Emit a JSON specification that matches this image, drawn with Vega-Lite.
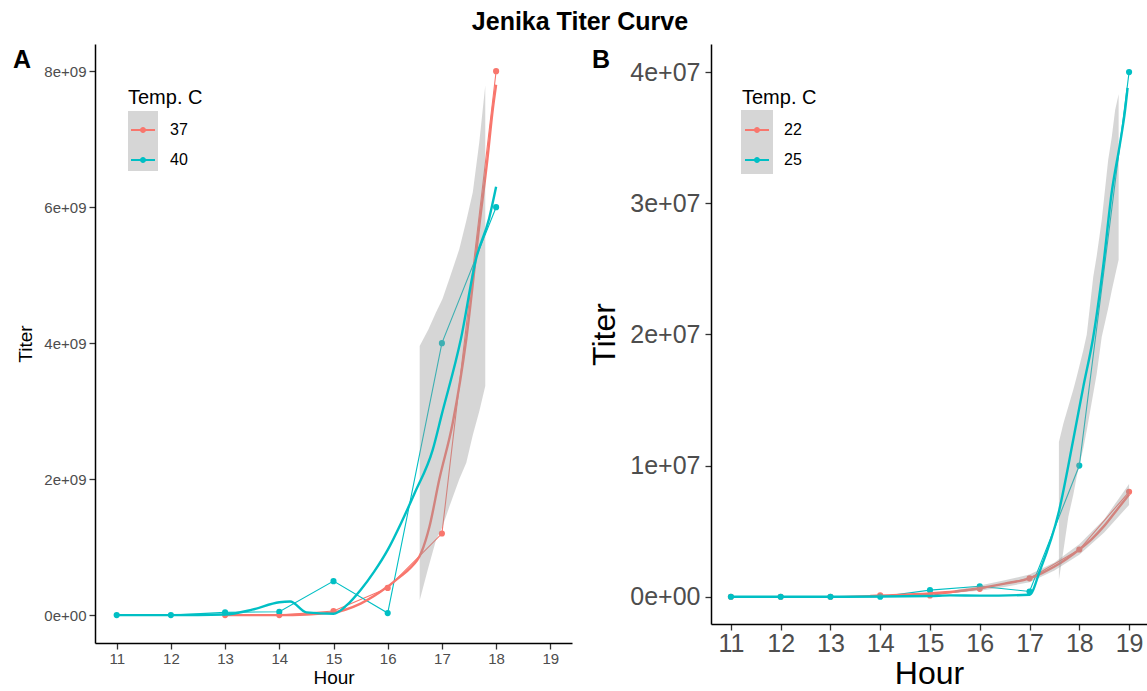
{
  "$schema": "https://vega.github.io/schema/vega-lite/v6.json",
  "background": "white",
  "padding": {"left": 13, "top": 10, "right": 0, "bottom": 0},
  "title": {"text": "Jenika Titer Curve", "fontSize": 25, "font": "Liberation Sans", "fontWeight": "bold", "color": "black", "anchor": "middle", "frame": "bounds", "offset": 9},
  "config": {
    "font": "Liberation Sans",
    "view": {"stroke": null},
    "axis": {"grid": false, "domainColor": "black", "domainWidth": 1.5, "tickColor": "#333333", "tickWidth": 1.3, "tickSize": 6, "labelColor": "#4d4d4d", "titleColor": "black", "titleFontWeight": "normal", "labelFont": "Liberation Sans", "titleFont": "Liberation Sans"},
    "legend": {"labelFont": "Liberation Sans", "titleFont": "Liberation Sans", "labelColor": "black", "titleColor": "black", "titleFontWeight": "normal"}
  },
  "datasets": {
    "a_key": [{"k": "1", "hour": 11, "titer": 0}, {"k": "2", "hour": 11, "titer": 0}],
    "b_key": [{"k": "1", "hour": 11, "titer": 0}, {"k": "2", "hour": 11, "titer": 0}],
    "a_pts": [
      {"temp": "37", "hour": 13, "titer": 0},
      {"temp": "37", "hour": 14, "titer": 0},
      {"temp": "37", "hour": 15, "titer": 60000000},
      {"temp": "37", "hour": 16, "titer": 400000000},
      {"temp": "37", "hour": 17, "titer": 1200000000},
      {"temp": "37", "hour": 18, "titer": 8000000000},
      {"temp": "40", "hour": 11, "titer": 0},
      {"temp": "40", "hour": 12, "titer": 0},
      {"temp": "40", "hour": 13, "titer": 40000000},
      {"temp": "40", "hour": 14, "titer": 50000000},
      {"temp": "40", "hour": 15, "titer": 500000000},
      {"temp": "40", "hour": 16, "titer": 30000000},
      {"temp": "40", "hour": 17, "titer": 4000000000},
      {"temp": "40", "hour": 18, "titer": 6000000000}
    ],
    "a_fit": [
      {"temp": "37", "hour": 13, "titer": 0},
      {"temp": "37", "hour": 14, "titer": 0},
      {"temp": "37", "hour": 14.5, "titer": 10000000},
      {"temp": "37", "hour": 15, "titer": 40000000},
      {"temp": "37", "hour": 15.5, "titer": 170000000},
      {"temp": "37", "hour": 16, "titer": 420000000},
      {"temp": "37", "hour": 16.22, "titer": 560000000},
      {"temp": "37", "hour": 16.4, "titer": 680000000},
      {"temp": "37", "hour": 16.62, "titer": 920000000},
      {"temp": "37", "hour": 16.77, "titer": 1300000000},
      {"temp": "37", "hour": 16.95, "titer": 1990000000},
      {"temp": "37", "hour": 17.2, "titer": 2830000000},
      {"temp": "37", "hour": 17.45, "titer": 4060000000},
      {"temp": "37", "hour": 17.69, "titer": 5730000000},
      {"temp": "37", "hour": 17.84, "titer": 6710000000},
      {"temp": "37", "hour": 17.94, "titer": 7450000000},
      {"temp": "37", "hour": 18, "titer": 7800000000},
      {"temp": "40", "hour": 11, "titer": 0},
      {"temp": "40", "hour": 12, "titer": 0},
      {"temp": "40", "hour": 13, "titer": 10000000},
      {"temp": "40", "hour": 13.5, "titer": 80000000},
      {"temp": "40", "hour": 14, "titer": 190000000},
      {"temp": "40", "hour": 14.2, "titer": 200000000},
      {"temp": "40", "hour": 14.5, "titer": 40000000},
      {"temp": "40", "hour": 15, "titer": 20000000},
      {"temp": "40", "hour": 15.25, "titer": 150000000},
      {"temp": "40", "hour": 15.5, "titer": 370000000},
      {"temp": "40", "hour": 15.75, "titer": 640000000},
      {"temp": "40", "hour": 16, "titer": 960000000},
      {"temp": "40", "hour": 16.25, "titer": 1360000000},
      {"temp": "40", "hour": 16.5, "titer": 1800000000},
      {"temp": "40", "hour": 16.83, "titer": 2430000000},
      {"temp": "40", "hour": 17, "titer": 2960000000},
      {"temp": "40", "hour": 17.35, "titer": 4060000000},
      {"temp": "40", "hour": 17.63, "titer": 5240000000},
      {"temp": "40", "hour": 17.87, "titer": 5830000000},
      {"temp": "40", "hour": 18, "titer": 6300000000}
    ],
    "a_band": [
      {"hour": 16.59, "titer": 220000000, "titer2": 3960000000},
      {"hour": 16.75, "titer": 700000000, "titer2": 4200000000},
      {"hour": 16.89, "titer": 1100000000, "titer2": 4450000000},
      {"hour": 17.01, "titer": 1300000000, "titer2": 4650000000},
      {"hour": 17.14, "titer": 1600000000, "titer2": 4950000000},
      {"hour": 17.32, "titer": 2000000000, "titer2": 5380000000},
      {"hour": 17.45, "titer": 2240000000, "titer2": 5800000000},
      {"hour": 17.57, "titer": 2650000000, "titer2": 6220000000},
      {"hour": 17.69, "titer": 3000000000, "titer2": 6960000000},
      {"hour": 17.8, "titer": 3370000000, "titer2": 7790000000}
    ],
    "b_pts": [
      {"temp": "22", "hour": 11, "titer": 0},
      {"temp": "22", "hour": 12, "titer": 0},
      {"temp": "22", "hour": 13, "titer": 0},
      {"temp": "22", "hour": 14, "titer": 100000},
      {"temp": "22", "hour": 15, "titer": 100000},
      {"temp": "22", "hour": 16, "titer": 600000},
      {"temp": "22", "hour": 17, "titer": 1400000},
      {"temp": "22", "hour": 18, "titer": 3600000},
      {"temp": "22", "hour": 19, "titer": 8000000},
      {"temp": "25", "hour": 11, "titer": 0},
      {"temp": "25", "hour": 12, "titer": 0},
      {"temp": "25", "hour": 13, "titer": 0},
      {"temp": "25", "hour": 14, "titer": 0},
      {"temp": "25", "hour": 15, "titer": 500000},
      {"temp": "25", "hour": 16, "titer": 800000},
      {"temp": "25", "hour": 17, "titer": 400000},
      {"temp": "25", "hour": 18, "titer": 10000000},
      {"temp": "25", "hour": 19, "titer": 40000000}
    ],
    "b_fit": [
      {"temp": "22", "hour": 13.8, "titer": 50000},
      {"temp": "22", "hour": 14, "titer": 80000},
      {"temp": "22", "hour": 15, "titer": 250000},
      {"temp": "22", "hour": 15.5, "titer": 400000},
      {"temp": "22", "hour": 16, "titer": 650000},
      {"temp": "22", "hour": 16.5, "titer": 1000000},
      {"temp": "22", "hour": 17, "titer": 1400000},
      {"temp": "22", "hour": 17.25, "titer": 1800000},
      {"temp": "22", "hour": 17.5, "titer": 2300000},
      {"temp": "22", "hour": 17.75, "titer": 2900000},
      {"temp": "22", "hour": 18, "titer": 3600000},
      {"temp": "22", "hour": 18.25, "titer": 4400000},
      {"temp": "22", "hour": 18.5, "titer": 5400000},
      {"temp": "22", "hour": 18.75, "titer": 6600000},
      {"temp": "22", "hour": 19, "titer": 7800000},
      {"temp": "25", "hour": 11, "titer": 0},
      {"temp": "25", "hour": 12, "titer": 0},
      {"temp": "25", "hour": 13, "titer": 0},
      {"temp": "25", "hour": 14, "titer": 20000},
      {"temp": "25", "hour": 15, "titer": 50000},
      {"temp": "25", "hour": 15.4, "titer": 100000},
      {"temp": "25", "hour": 16, "titer": 80000},
      {"temp": "25", "hour": 17, "titer": 150000},
      {"temp": "25", "hour": 17.21, "titer": 2000000},
      {"temp": "25", "hour": 17.59, "titer": 6500000},
      {"temp": "25", "hour": 17.88, "titer": 12000000},
      {"temp": "25", "hour": 18.08, "titer": 16000000},
      {"temp": "25", "hour": 18.28, "titer": 19800000},
      {"temp": "25", "hour": 18.48, "titer": 25200000},
      {"temp": "25", "hour": 18.65, "titer": 30800000},
      {"temp": "25", "hour": 18.82, "titer": 34600000},
      {"temp": "25", "hour": 18.92, "titer": 37100000},
      {"temp": "25", "hour": 18.97, "titer": 38800000}
    ],
    "b_band": [
      {"g": "22", "hour": 15.5, "titer": 300000, "titer2": 500000},
      {"g": "22", "hour": 16, "titer": 450000, "titer2": 850000},
      {"g": "22", "hour": 16.5, "titer": 750000, "titer2": 1250000},
      {"g": "22", "hour": 17, "titer": 1100000, "titer2": 1700000},
      {"g": "22", "hour": 17.5, "titer": 2000000, "titer2": 2600000},
      {"g": "22", "hour": 18, "titer": 3200000, "titer2": 4000000},
      {"g": "22", "hour": 18.5, "titer": 4900000, "titer2": 5900000},
      {"g": "22", "hour": 19, "titer": 7000000, "titer2": 8600000},
      {"g": "25", "hour": 17.59, "titer": 1300000, "titer2": 11800000},
      {"g": "25", "hour": 17.68, "titer": 3500000, "titer2": 13200000},
      {"g": "25", "hour": 17.78, "titer": 6100000, "titer2": 14500000},
      {"g": "25", "hour": 17.88, "titer": 7800000, "titer2": 15800000},
      {"g": "25", "hour": 17.95, "titer": 9200000, "titer2": 16800000},
      {"g": "25", "hour": 18.08, "titer": 11300000, "titer2": 18800000},
      {"g": "25", "hour": 18.15, "titer": 12700000, "titer2": 20000000},
      {"g": "25", "hour": 18.28, "titer": 15500000, "titer2": 24400000},
      {"g": "25", "hour": 18.35, "titer": 17000000, "titer2": 26000000},
      {"g": "25", "hour": 18.45, "titer": 19800000, "titer2": 28700000},
      {"g": "25", "hour": 18.58, "titer": 22000000, "titer2": 33300000},
      {"g": "25", "hour": 18.65, "titer": 23300000, "titer2": 35000000},
      {"g": "25", "hour": 18.72, "titer": 24500000, "titer2": 37100000},
      {"g": "25", "hour": 18.79, "titer": 25700000, "titer2": 38300000}
    ]
  },
  "spacing": 16,
  "resolve": {"scale": {"color": "independent", "fill": "independent", "stroke": "independent"}},
  "hconcat": [
    {
      "width": 477,
      "height": 599,
      "title": {"text": "A", "anchor": "start", "frame": "group", "fontSize": 25, "fontWeight": "bold", "color": "black", "offset": -29, "dx": -82},
      "encoding": {
        "x": {"field": "hour", "type": "quantitative", "scale": {"domain": [10.6, 19.4], "nice": false, "zero": false},
              "axis": {"values": [11, 12, 13, 14, 15, 16, 17, 18, 19], "title": "Hour", "labelFontSize": 15, "titleFontSize": 19, "labelPadding": 2, "titlePadding": 2}},
        "y": {"field": "titer", "type": "quantitative", "scale": {"domain": [-410000000, 8400000000], "nice": false, "zero": false},
              "axis": {"values": [0, 2000000000, 4000000000, 6000000000, 8000000000], "title": "Titer", "labelFontSize": 15, "titleFontSize": 19, "labelPadding": 3, "titlePadding": 8,
                       "labelExpr": "datum.value == 0 ? '0e+00' : format(datum.value / 1e9, 'd') + 'e+09'"}}
      },
      "layer": [
        {
          "data": {"name": "a_key"},
          "mark": {"type": "point", "filled": true, "size": 0, "opacity": 1},
          "encoding": {
            "color": {"field": "k", "type": "nominal", "scale": {"range": ["#d6d6d6", "#d6d6d6"]},
                      "legend": {"title": null, "orient": "none", "legendX": 33, "legendY": 67, "symbolType": "square", "symbolSize": 900, "symbolStrokeWidth": 0, "symbolOpacity": 1, "rowPadding": 0, "labelExpr": "''", "labelFontSize": 1}}
          }
        },
        {
          "data": {"name": "a_pts"},
          "mark": {"type": "line", "strokeWidth": 1.1},
          "encoding": {"stroke": {"field": "temp", "type": "nominal", "scale": {"domain": ["40", "37"], "range": ["#00BFC4", "#F8766D"]}, "legend": null}}
        },
        {
          "data": {"name": "a_pts"},
          "mark": {"type": "point", "filled": true, "size": 38, "opacity": 1},
          "encoding": {"fill": {"field": "temp", "type": "nominal", "scale": {"domain": ["37", "40"], "range": ["#F8766D", "#00BFC4"]},
                      "legend": {"title": "Temp. C", "orient": "none", "legendX": 33, "legendY": 44, "titleFontSize": 20, "titlePadding": 7, "labelFontSize": 16, "labelOffset": 12,
                                 "symbolType": "M-0.8,-0.07L0.8,-0.07L0.8,0.07L-0.8,0.07Z M0.2,0A0.2,0.2,0,1,1,-0.2,0A0.2,0.2,0,1,1,0.2,0Z", "symbolSize": 900, "symbolStrokeWidth": 0, "symbolOpacity": 1, "rowPadding": 7}}}
        },
        {
          "data": {"name": "a_fit"},
          "transform": [{"filter": "datum.temp == '37'"}],
          "mark": {"type": "line", "strokeWidth": 2.4, "color": "#F8766D", "interpolate": "monotone"}
        },
        {
          "data": {"name": "a_band"},
          "mark": {"type": "area", "color": "#999999", "opacity": 0.4},
          "encoding": {"y2": {"field": "titer2"}}
        },
        {
          "data": {"name": "a_fit"},
          "transform": [{"filter": "datum.temp == '40'"}],
          "mark": {"type": "line", "strokeWidth": 2.4, "color": "#00BFC4", "interpolate": "monotone"}
        }
      ]
    },
    {
      "width": 436,
      "height": 580,
      "title": {"text": "B", "anchor": "start", "frame": "group", "fontSize": 25, "fontWeight": "bold", "color": "black", "offset": -29, "dx": -119},
      "encoding": {
        "x": {"field": "hour", "type": "quantitative", "scale": {"domain": [10.6, 19.36], "nice": false, "zero": false},
              "axis": {"values": [11, 12, 13, 14, 15, 16, 17, 18, 19], "title": "Hour", "labelFontSize": 25, "titleFontSize": 32, "labelPadding": 1, "titlePadding": 2}},
        "y": {"field": "titer", "type": "quantitative", "scale": {"domain": [-2080000, 42140000], "nice": false, "zero": false},
              "axis": {"values": [0, 10000000, 20000000, 30000000, 40000000], "title": "Titer", "labelFontSize": 25, "titleFontSize": 32, "labelPadding": 5, "titlePadding": 8,
                       "labelExpr": "datum.value == 0 ? '0e+00' : format(datum.value / 1e7, 'd') + 'e+07'"}}
      },
      "layer": [
        {
          "data": {"name": "b_key"},
          "mark": {"type": "point", "filled": true, "size": 0, "opacity": 1},
          "encoding": {
            "color": {"field": "k", "type": "nominal", "scale": {"range": ["#d6d6d6", "#d6d6d6"]},
                      "legend": {"title": null, "orient": "none", "legendX": 30, "legendY": 66, "symbolType": "square", "symbolSize": 1024, "symbolStrokeWidth": 0, "symbolOpacity": 1, "rowPadding": -2, "labelExpr": "''", "labelFontSize": 1}}
          }
        },
        {
          "data": {"name": "b_pts"},
          "mark": {"type": "line", "strokeWidth": 1.1},
          "encoding": {"stroke": {"field": "temp", "type": "nominal", "scale": {"domain": ["25", "22"], "range": ["#00BFC4", "#F8766D"]}, "legend": null}}
        },
        {
          "data": {"name": "b_pts"},
          "mark": {"type": "point", "filled": true, "size": 38, "opacity": 1},
          "encoding": {"fill": {"field": "temp", "type": "nominal", "scale": {"domain": ["22", "25"], "range": ["#F8766D", "#00BFC4"]},
                      "legend": {"title": "Temp. C", "orient": "none", "legendX": 31, "legendY": 44, "titleFontSize": 20, "titlePadding": 7, "labelFontSize": 16, "labelOffset": 12,
                                 "symbolType": "M-0.8,-0.07L0.8,-0.07L0.8,0.07L-0.8,0.07Z M0.2,0A0.2,0.2,0,1,1,-0.2,0A0.2,0.2,0,1,1,0.2,0Z", "symbolSize": 900, "symbolStrokeWidth": 0, "symbolOpacity": 1, "rowPadding": 7}}}
        },
        {
          "data": {"name": "b_fit"},
          "transform": [{"filter": "datum.temp == '22'"}],
          "mark": {"type": "line", "strokeWidth": 2.4, "color": "#F8766D", "interpolate": "monotone"}
        },
        {
          "data": {"name": "b_band"},
          "mark": {"type": "area", "color": "#999999", "opacity": 0.4},
          "encoding": {"y2": {"field": "titer2"}, "detail": {"field": "g", "type": "nominal"}}
        },
        {
          "data": {"name": "b_fit"},
          "transform": [{"filter": "datum.temp == '25'"}],
          "mark": {"type": "line", "strokeWidth": 2.4, "color": "#00BFC4", "interpolate": "monotone"}
        }
      ]
    }
  ]
}
